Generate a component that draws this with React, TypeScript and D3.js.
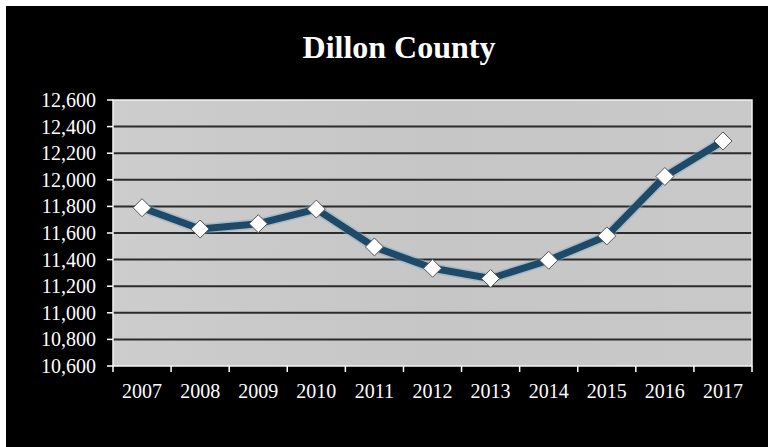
import React from "react";
import * as d3 from "d3";

const years = ["2007", "2008", "2009", "2010", "2011", "2012", "2013", "2014", "2015", "2016", "2017"];
const population = [11790, 11630, 11670, 11780, 11495, 11335, 11258, 11395, 11578, 12025, 12292];
const yTicks = [10600, 10800, 11000, 11200, 11400, 11600, 11800, 12000, 12200, 12400, 12600];
const title = "Dillon County";

const W = 768;
const H = 447;
const plot = { left: 113, top: 100, right: 752, bottom: 366 };

export default function App() {
  const x = d3.scaleBand<string>().domain(years).range([plot.left, plot.right]).padding(0);
  const y = d3.scaleLinear().domain([10600, 12600]).range([plot.bottom, plot.top]);
  const fmt = d3.format(",");
  const line = d3
    .line<number>()
    .x((_, i) => (x(years[i]) as number) + x.bandwidth() / 2)
    .y((d) => y(d));
  const pathD = line(population) || "";
  const boundaries = years.map((yr) => x(yr) as number).concat([plot.right]);
  const font = "'Liberation Serif', 'Times New Roman', serif";
  const dsz = 9;

  return (
    <svg
      width={W}
      height={H}
      style={{ position: "absolute", left: 0, top: 0, display: "block" }}
      fontFamily={font}
    >
      <defs>
        <linearGradient id="bg" x1="0" x2="1" y1="0" y2="0">
          <stop offset="0" stopColor="#cdcdcd" />
          <stop offset="0.5" stopColor="#c6c6c6" />
          <stop offset="1" stopColor="#c9c9c9" />
        </linearGradient>
      </defs>
      <rect x={0} y={0} width={W} height={H} fill="#ffffff" />
      <rect x={6} y={6} width={W - 6} height={H - 6} fill="#000000" />
      <text x={399} y={58} textAnchor="middle" fill="#ffffff" fontSize={32} fontWeight="bold">
        {title}
      </text>
      <rect
        x={plot.left}
        y={plot.top}
        width={plot.right - plot.left}
        height={plot.bottom - plot.top}
        fill="url(#bg)"
      />
      {yTicks.slice(1, -1).map((t) => (
        <line key={"g" + t} x1={plot.left} x2={plot.right} y1={y(t)} y2={y(t)} stroke="#2b2b2b" strokeWidth={2} />
      ))}
      <rect
        x={plot.left}
        y={plot.top}
        width={plot.right - plot.left}
        height={plot.bottom - plot.top}
        fill="none"
        stroke="#f2f2f2"
        strokeWidth={1.5}
      />
      {yTicks.map((t) => (
        <g key={"y" + t}>
          <line x1={plot.left - 6} x2={plot.left} y1={y(t)} y2={y(t)} stroke="#ffffff" strokeWidth={1.5} />
          <text x={96} y={y(t)} dy="0.35em" textAnchor="end" fill="#ffffff" fontSize={20}>
            {fmt(t)}
          </text>
        </g>
      ))}
      {boundaries.map((bx, i) => (
        <line key={"xt" + i} x1={bx} x2={bx} y1={plot.bottom} y2={plot.bottom + 6} stroke="#ffffff" strokeWidth={1.5} />
      ))}
      {years.map((yr) => (
        <text
          key={"xl" + yr}
          x={(x(yr) as number) + x.bandwidth() / 2}
          y={398}
          textAnchor="middle"
          fill="#ffffff"
          fontSize={20}
        >
          {yr}
        </text>
      ))}
      <path d={pathD} fill="none" stroke="#7fa6c0" strokeOpacity={0.45} strokeWidth={10} strokeLinejoin="round" />
      <path d={pathD} fill="none" stroke="#1e4a68" strokeWidth={7} strokeLinejoin="round" />
      {population.map((v, i) => {
        const cx = (x(years[i]) as number) + x.bandwidth() / 2;
        const cy = y(v);
        return (
          <path
            key={"m" + i}
            d={`M${cx},${cy - dsz}L${cx + dsz},${cy}L${cx},${cy + dsz}L${cx - dsz},${cy}Z`}
            fill="#ffffff"
            stroke="#555555"
            strokeWidth={1}
          />
        );
      })}
    </svg>
  );
}
